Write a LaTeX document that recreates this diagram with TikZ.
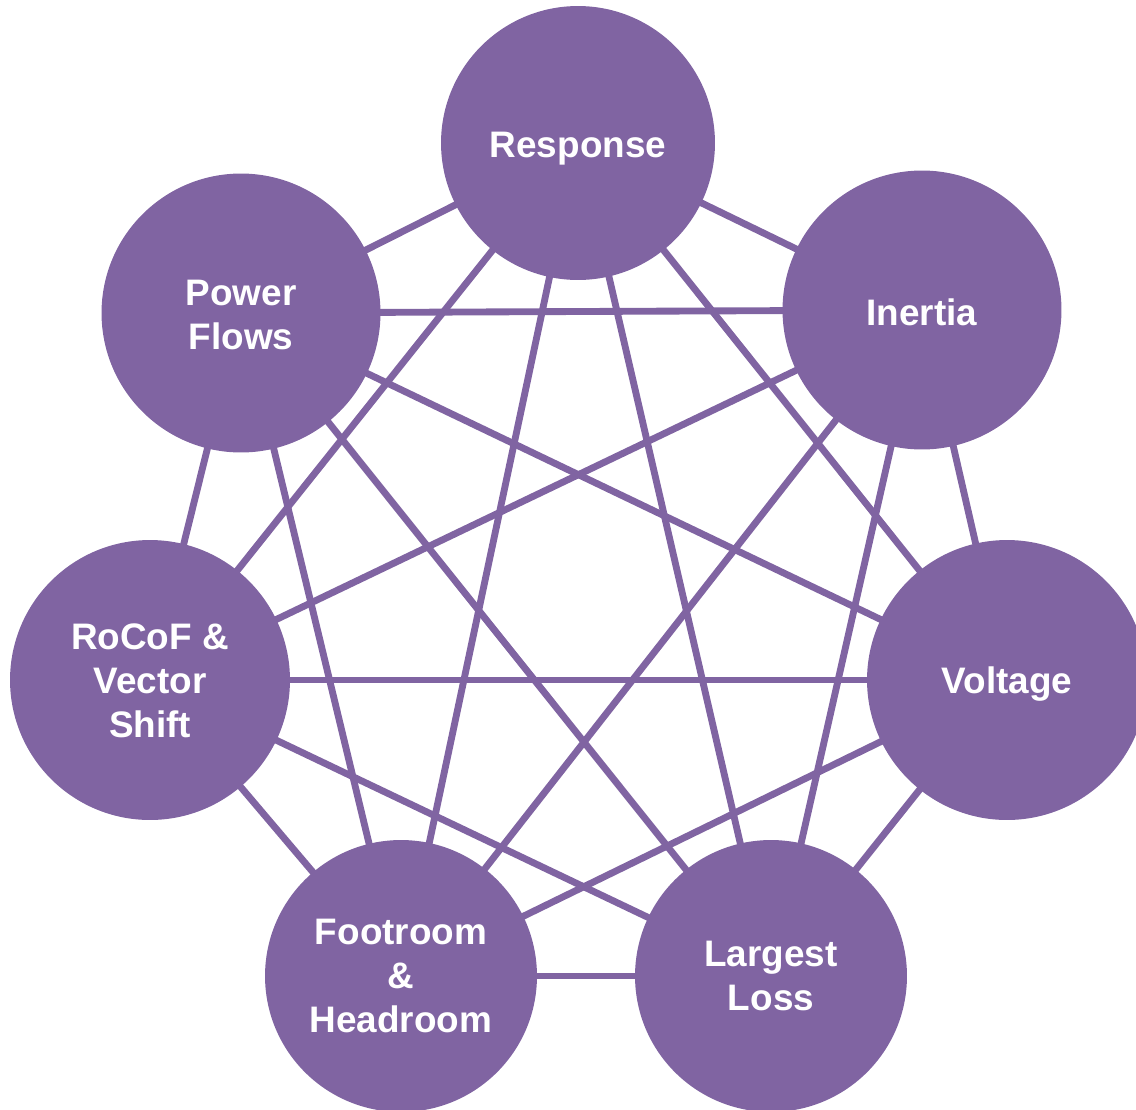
\documentclass[tikz,border=0pt]{standalone}
\usepackage{fontspec}
\setmainfont{Liberation Sans}
\usetikzlibrary{backgrounds}
\definecolor{hub}{HTML}{8064A2}
\begin{document}
\begin{tikzpicture}[x=0.02cm,y=-0.02cm,
  topic/.style={circle, fill=hub, draw=none, inner sep=0pt},
  caption/.style={inner sep=0pt, text=white,
    font=\bfseries\fontsize{21}{25.2}\selectfont, align=center},
  link/.style={draw=hub, line width=3.9pt}]
\useasboundingbox (0,0) rectangle (1136,1109);
\clip (0,0) rectangle (1136,1109);

% the seven topics, each with its caption centred inside
\node[topic, minimum size=5.48cm,
  label={[caption, yshift=-0.12cm]center:Response}] (resp) at (578,143) {};
\node[topic, minimum size=5.58cm,
  label={[caption, yshift=-0.04cm]center:Inertia}] (iner) at (922,310) {};
\node[topic, minimum size=5.60cm,
  label={[caption, yshift=-0.08cm]center:Voltage}] (volt) at (1007,680) {};
\node[topic, minimum size=5.44cm,
  label={[caption]center:Largest\\Loss}] (loss) at (771,976) {};
\node[topic, minimum size=5.44cm,
  label={[caption]center:Footroom\\\&\\Headroom}] (foot) at (401,976) {};
\node[topic, minimum size=5.60cm,
  label={[caption, yshift=-0.02cm]center:RoCoF \&\\Vector\\Shift}] (roco) at (150,680) {};
\node[topic, minimum size=5.58cm,
  label={[caption, yshift=-0.04cm]center:Power\\Flows}] (powf) at (241,313) {};

% every topic is linked to every other one
\begin{scope}[on background layer]
  \foreach \a/\rest in {resp/{iner,volt,loss,foot,roco,powf},
                        iner/{volt,loss,foot,roco,powf},
                        volt/{loss,foot,roco,powf},
                        loss/{foot,roco,powf},
                        foot/{roco,powf},
                        roco/{powf}}
    \foreach \b in \rest
      \draw[link] (\a.center) -- (\b.center);
\end{scope}
\end{tikzpicture}
\end{document}
